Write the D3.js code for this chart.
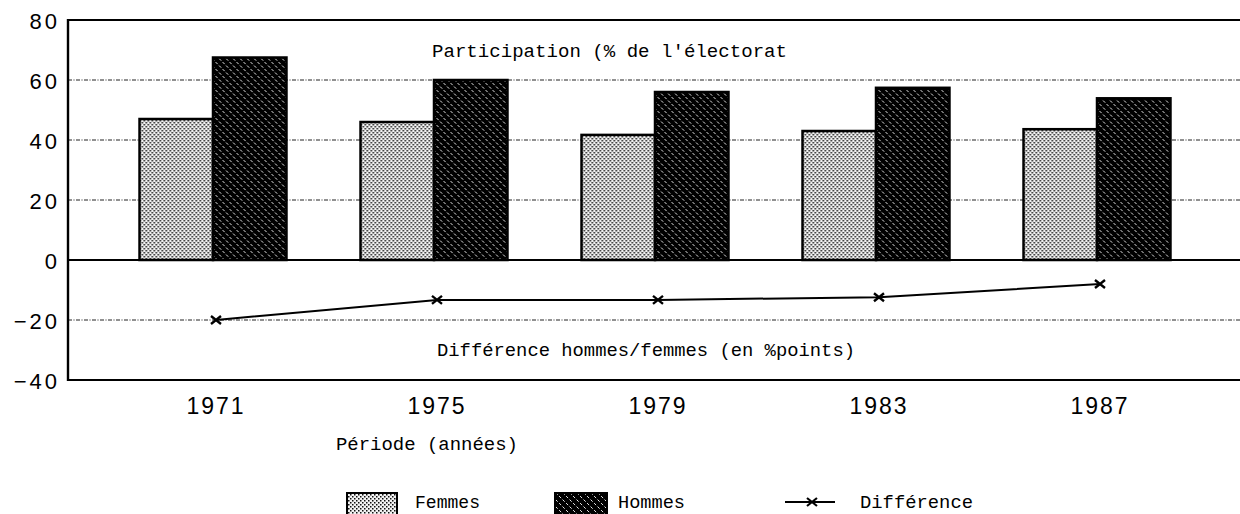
<!DOCTYPE html>
<html>
<head>
<meta charset="utf-8">
<script src="https://cdn.jsdelivr.net/npm/d3@7"></script>
<style>
  body { margin: 0; background: #fff; }
  svg { display: block; }
  .note { font-family: "Liberation Mono", "DejaVu Sans Mono", monospace; font-size: 19px; fill: #000; }
</style>
</head>
<body>
<svg id="graph" width="1240" height="514"></svg>
<script>
/*globals d3*/
// data
var years = ["1971", "1975", "1979", "1983", "1987"];
var series = ["Femmes", "Hommes"];
var femmes = [47, 46, 41.7, 43, 43.6];
var hommes = [67.5, 60, 56, 57.4, 53.9];
var difference = [-20, -13.3, -13.3, -12.4, -8];
var yTicks = [-40, -20, 0, 20, 40, 60, 80];
var gridValues = [60, 40, 20, -20];

var svg = d3.select("svg"),
    width = 1240,
    left = 68;

var x = d3.scaleBand().domain(years).range([102.5, 1207.5]).paddingInner(0.335).paddingOuter(0.1675);
var xs = d3.scaleBand().domain(series).range([0, x.bandwidth()]);
var y = d3.scaleLinear().domain([-40, 80]).range([380, 20]);

// patterns
var defs = svg.append("defs");
var pf = defs.append("pattern").attr("id", "pat-femmes")
  .attr("patternUnits", "userSpaceOnUse").attr("width", 4).attr("height", 4);
pf.append("rect").attr("width", 4).attr("height", 4).attr("fill", "#f2f2f2");
pf.append("rect").attr("x", 0).attr("y", 0).attr("width", 1.5).attr("height", 1.5).attr("fill", "#111");
pf.append("rect").attr("x", 2).attr("y", 2).attr("width", 1.5).attr("height", 1.5).attr("fill", "#111");

var ph = defs.append("pattern").attr("id", "pat-hommes")
  .attr("patternUnits", "userSpaceOnUse").attr("width", 7).attr("height", 7);
ph.append("rect").attr("width", 7).attr("height", 7).attr("fill", "#000");
ph.append("path").attr("d", "M-1,-1L8,8M-1,6L1,8M6,-1L8,1")
  .attr("stroke", "#fff").attr("stroke-width", 0.9).attr("stroke-dasharray", "3,2");

var fills = {Femmes: "url(#pat-femmes)", Hommes: "url(#pat-hommes)"};

// gridlines
svg.append("g").selectAll("line").data(gridValues).enter().append("line")
  .attr("x1", left).attr("x2", width)
  .attr("y1", function(d) { return y(d); }).attr("y2", function(d) { return y(d); })
  .attr("stroke", "#222").attr("stroke-width", 1).attr("stroke-dasharray", "4,1.5,1,1.5");

// bars
var rows = years.map(function(yr, i) { return {year: yr, Femmes: femmes[i], Hommes: hommes[i]}; });
svg.append("g").selectAll("g").data(rows).enter().append("g")
  .attr("transform", function(d) { return "translate(" + x(d.year) + ",0)"; })
  .selectAll("rect")
  .data(function(d) { return series.map(function(s) { return {key: s, value: d[s]}; }); })
  .enter().append("rect")
  .attr("x", function(d) { return xs(d.key); })
  .attr("width", xs.bandwidth())
  .attr("y", function(d) { return y(d.value); })
  .attr("height", function(d) { return y(0) - y(d.value); })
  .attr("fill", function(d) { return fills[d.key]; })
  .attr("stroke", "#000").attr("stroke-width", 2.5);

// frame: top, zero, bottom, left
svg.append("g").selectAll("line").data([80, 0, -40]).enter().append("line")
  .attr("x1", left).attr("x2", width)
  .attr("y1", function(d) { return y(d); }).attr("y2", function(d) { return y(d); })
  .attr("stroke", "#000").attr("stroke-width", 2);
svg.append("line").attr("x1", left).attr("x2", left).attr("y1", y(80) - 1).attr("y2", y(-40) + 1)
  .attr("stroke", "#000").attr("stroke-width", 2.4);

// difference line
var diffX = function(d, i) { return x(years[i]) + x.bandwidth() / 2 + 3; };
svg.append("path").datum(difference)
  .attr("fill", "none").attr("stroke", "#000").attr("stroke-width", 2)
  .attr("d", d3.line().x(diffX).y(function(d) { return y(d); }));
svg.append("g").selectAll("path.mark").data(difference).enter().append("path")
  .attr("class", "mark")
  .attr("transform", function(d, i) { return "translate(" + diffX(d, i) + "," + y(d) + ")"; })
  .attr("d", "M-5,-4L5,4M-5,4L5,-4")
  .attr("stroke", "#000").attr("stroke-width", 2.4);

// axes
var yAxis = svg.append("g").attr("transform", "translate(" + (left - 11) + ",0)")
  .call(d3.axisLeft(y).tickValues(yTicks).tickSize(0).tickPadding(0));
yAxis.select(".domain").remove();
yAxis.selectAll("text")
  .style("font-family", "'Liberation Sans', Arial, sans-serif")
  .style("font-size", "22px").style("letter-spacing", "3px").style("fill", "#000")
  .attr("dy", "0.4em").attr("dx", "3px");

var xAxis = svg.append("g").attr("transform", "translate(0," + 397 + ")")
  .call(d3.axisBottom(x).tickSize(0).tickPadding(0));
xAxis.select(".domain").remove();
xAxis.selectAll("text")
  .style("font-family", "'Liberation Sans', Arial, sans-serif")
  .style("font-size", "23px").style("letter-spacing", "2px").style("fill", "#000")
  .attr("dy", "0.72em").attr("dx", "3px");

// annotations
function note(txt, px, py, len) {
  return svg.append("text").attr("class", "note").attr("x", px).attr("y", py)
    .attr("textLength", len).attr("lengthAdjust", "spacingAndGlyphs").text(txt);
}
note("Participation (% de l'\u00e9lectorat", 432, 57, 355);
note("Diff\u00e9rence hommes/femmes (en %points)", 437, 356, 418);
note("P\u00e9riode (ann\u00e9es)", 336, 450, 182);

// legend
svg.append("rect").attr("x", 347).attr("y", 493).attr("width", 50).attr("height", 24)
  .attr("fill", fills.Femmes).attr("stroke", "#000").attr("stroke-width", 2);
note("Femmes", 415, 508, 65).style("font-size", "18px");
svg.append("rect").attr("x", 555).attr("y", 493).attr("width", 52).attr("height", 24)
  .attr("fill", fills.Hommes).attr("stroke", "#000").attr("stroke-width", 2);
note("Hommes", 618, 508, 67).style("font-size", "18px");
svg.append("line").attr("x1", 785).attr("x2", 835).attr("y1", 502).attr("y2", 502)
  .attr("stroke", "#000").attr("stroke-width", 2);
svg.append("path").attr("transform", "translate(812,502)").attr("d", "M-5,-4L5,4M-5,4L5,-4")
  .attr("stroke", "#000").attr("stroke-width", 2.2);
note("Diff\u00e9rence", 860, 508, 113).style("font-size", "18px");
</script>
</body>
</html>
